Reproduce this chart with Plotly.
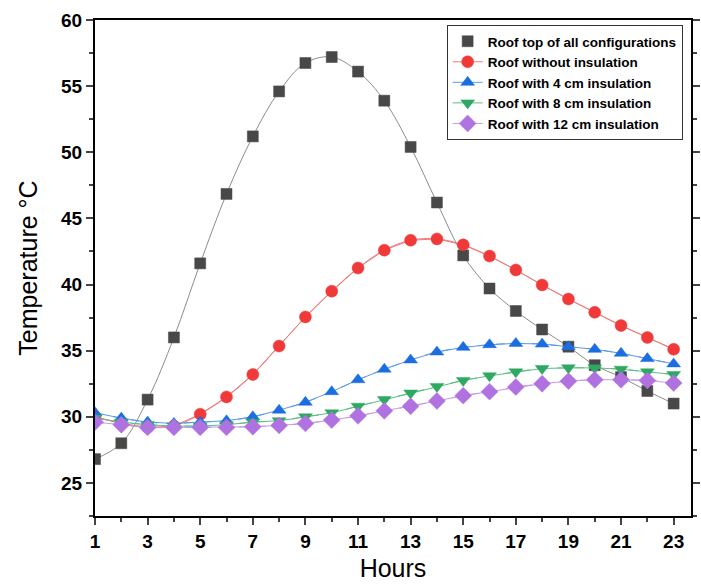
import plotly.graph_objects as go

hours = list(range(1, 24))
roof_top = [26.8, 28.0, 31.3, 36.0, 41.6, 46.85, 51.2, 54.6, 56.75, 57.2, 56.1, 53.9, 50.4, 46.2,
            42.2, 39.7, 38.0, 36.6, 35.3, 33.9, 33.0, 31.95, 31.0]
no_ins = [30.0, 29.5, 29.2, 29.3, 30.2, 31.5, 33.2, 35.35, 37.55, 39.5, 41.25, 42.6, 43.35, 43.45,
          43.0, 42.15, 41.1, 39.97, 38.9, 37.9, 36.9, 36.0, 35.1]
ins4 = [30.3, 29.9, 29.6, 29.5, 29.6, 29.7, 30.0, 30.5, 31.1, 31.9, 32.8, 33.6, 34.3, 34.9,
        35.25, 35.45, 35.55, 35.5, 35.3, 35.1, 34.8, 34.4, 34.0]
ins8 = [29.9, 29.6, 29.4, 29.3, 29.3, 29.4, 29.6, 29.7, 30.0, 30.3, 30.8, 31.3, 31.8, 32.3,
        32.75, 33.1, 33.4, 33.65, 33.7, 33.7, 33.6, 33.4, 33.2]
ins12 = [29.6, 29.4, 29.2, 29.2, 29.2, 29.2, 29.25, 29.35, 29.5, 29.75, 30.07, 30.45, 30.8, 31.2,
         31.6, 31.9, 32.25, 32.5, 32.7, 32.8, 32.8, 32.75, 32.55]

names = ["Roof top of all configurations", "Roof without insulation", "Roof with 4 cm insulation",
         "Roof with 8 cm insulation", "Roof with 12 cm insulation"]
series = [roof_top, no_ins, ins4, ins8, ins12]
marker_colors = ["#484848", "#f03a3a", "#1a6ee0", "#2ea862", "#b072e0"]
line_colors = ["#8c8c8c", "#f07a7a", "#5a9aea", "#5cbf86", "#c39ae8"]
symbols = ["square", "circle", "triangle-up", "triangle-down", "diamond"]
dashes = ["solid", "solid", "dash", "dash", "dash"]
sizes = [11, 12, 12, 12, 13]

fig = go.Figure()
for i, (nm, ys) in enumerate(zip(names, series)):
    fig.add_trace(go.Scatter(
        x=hours, y=ys, mode="lines", line=dict(shape="spline", color=line_colors[i], width=1, dash=dashes[i]),
        showlegend=False, hoverinfo="skip"))
for i, (nm, ys) in enumerate(zip(names, series)):
    fig.add_trace(go.Scatter(
        x=hours, y=ys, name=nm,
        mode="markers" if i == 0 else "lines+markers",
        line=dict(color=line_colors[i], width=1),
        marker=dict(symbol=symbols[i], size=sizes[i], color=marker_colors[i],
                    line=dict(width=0.5, color=marker_colors[i]))))

axis_font = dict(family="Arial, Liberation Sans", size=19, color="black", weight="bold")
fig.update_layout(
    width=701, height=584,
    margin=dict(l=95, r=1, t=20, b=68),
    plot_bgcolor="white", paper_bgcolor="white",
    font=dict(family="Arial, Liberation Sans", color="black"),
    legend=dict(x=0.986, y=0.99, xanchor="right", yanchor="top",
                bgcolor="rgba(255,255,255,0)", bordercolor="#333", borderwidth=1,
                font=dict(family="Arial, Liberation Sans", size=13.5, color="black", weight="bold"),
                tracegroupgap=0, itemwidth=30),
    xaxis=dict(range=[1, 23.66], tick0=1, dtick=2, ticks="outside", ticklen=7, tickwidth=2,
               showgrid=False, zeroline=False, showline=True, linecolor="black", linewidth=2,
               mirror=True, tickfont=axis_font,
               minor=dict(dtick=1, ticks="outside", ticklen=4, tickwidth=1.5, showgrid=False),
               title=dict(text="Hours", font=dict(size=25, family="Arial, Liberation Sans"), standoff=9)),
    yaxis=dict(range=[22.5, 60], tick0=25, dtick=5, ticks="outside", ticklen=7, tickwidth=2,
               showgrid=False, zeroline=False, showline=True, linecolor="black", linewidth=2,
               mirror="ticks", tickfont=axis_font,
               minor=dict(dtick=2.5, ticks="outside", ticklen=4, tickwidth=1.5, showgrid=False),
               title=dict(text="Temperature °C", font=dict(size=25, family="Arial, Liberation Sans"), standoff=16)),
)

fig.write_html("out.html")
